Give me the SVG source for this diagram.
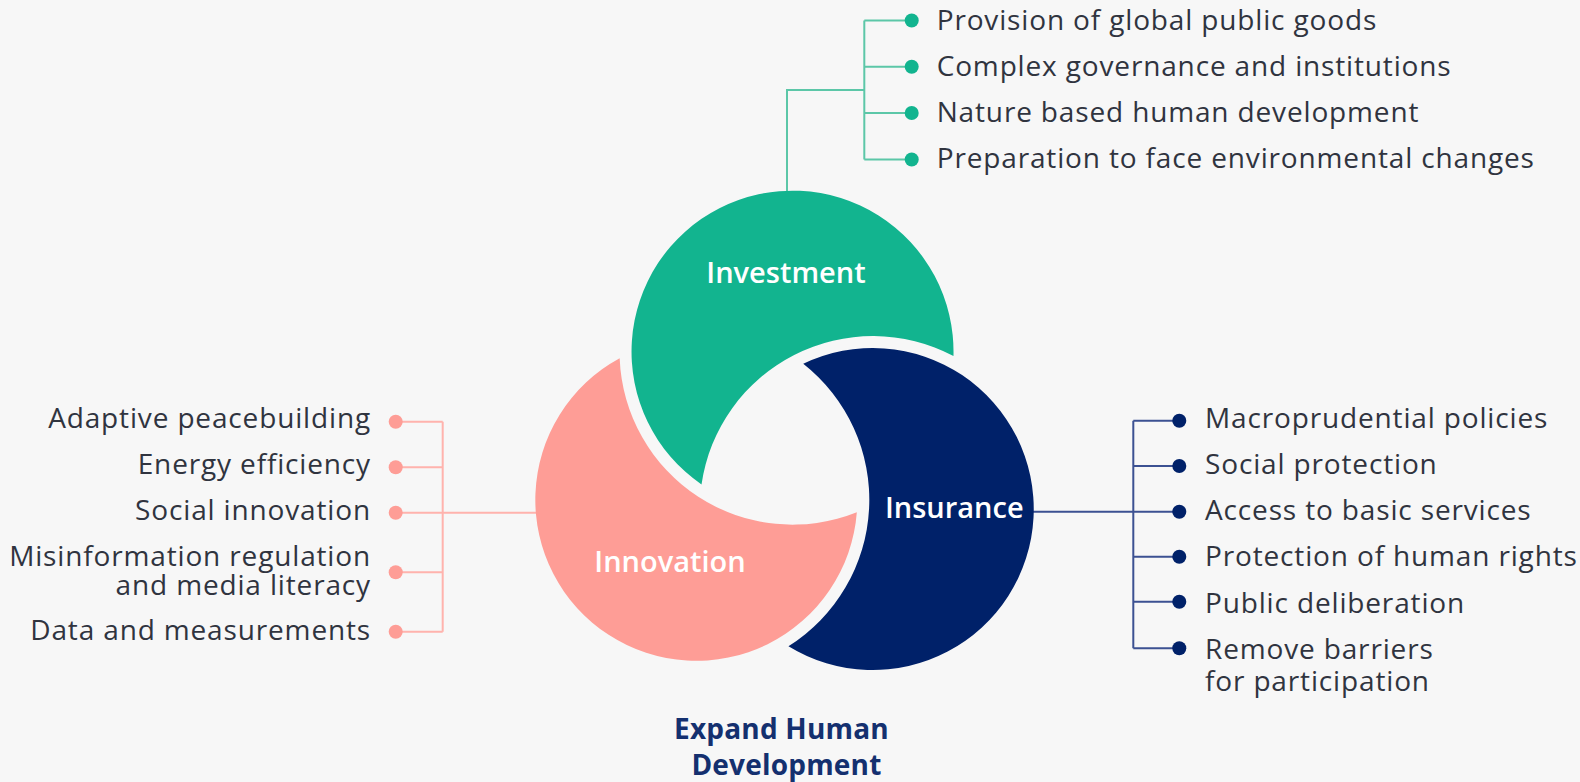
<svg xmlns="http://www.w3.org/2000/svg" width="1580" height="782" viewBox="0 0 1580 782">
<style>
.item{font-family:"Open Sans","Liberation Sans",sans-serif;font-size:28px;letter-spacing:0.85px;fill:#30343f}
.lbl{font-family:"Open Sans","Liberation Sans",sans-serif;font-size:29px;fill:#ffffff;font-weight:600;text-anchor:middle}
.ttl{font-family:"Open Sans","Liberation Sans",sans-serif;font-size:28px;letter-spacing:0.2px;fill:#14306f;font-weight:700;text-anchor:middle}
.gl{stroke:#5cc7a8;stroke-width:2;fill:none}
.pl{stroke:#ffb3ad;stroke-width:2;fill:none}
.nl{stroke:#3c5192;stroke-width:2;fill:none}
</style>
<defs>
<path id="cres" d="M 953.47 356.04 A 161 161 0 1 0 701.51 484.44 A 173 173 0 0 1 953.47 356.04 Z"/>
</defs>
<rect width="1580" height="782" fill="#f7f7f7"/>
<g id="connectors">
<path class="gl" d="M787 191 V90 H864.3 M864.3 20.5 V159.5 M864.3 20.5 H911.7 M864.3 66.7 H911.7 M864.3 113 H911.7 M864.3 159.5 H911.7"/>
<path class="pl" d="M536 512.7 H442.7 M442.7 421.7 V631.7 M395.7 421.7 H442.7 M395.7 467.3 H442.7 M395.7 512.7 H442.7 M395.7 572.3 H442.7 M395.7 631.7 H442.7"/>
<path class="nl" d="M1033 511.7 H1179.3 M1133.3 420.7 V648.3 M1133.3 420.7 H1179.3 M1133.3 466 H1179.3 M1133.3 556.7 H1179.3 M1133.3 601.7 H1179.3 M1133.3 648.3 H1179.3"/>
</g>
<g id="investment">
<use href="#cres" fill="#12b48f"/>
<text class="lbl" x="786" y="282.7">Investment</text>
</g>
<g id="insurance">
<use href="#cres" fill="#002169" transform="rotate(120 787.2 453.5)"/>
<text class="lbl" x="954.3" y="518.3">Insurance</text>
</g>
<g id="innovation">
<use href="#cres" fill="#fe9d96" transform="rotate(240 787.2 453.5)"/>
<text class="lbl" x="670" y="572.3">Innovation</text>
</g>
<g id="investment-items">
<circle cx="911.7" cy="20.5" r="7" fill="#12b48f"/>
<circle cx="911.7" cy="66.7" r="7" fill="#12b48f"/>
<circle cx="911.7" cy="113" r="7" fill="#12b48f"/>
<circle cx="911.7" cy="159.5" r="7" fill="#12b48f"/>
<text class="item" x="936.7" y="30">Provision of global public goods</text>
<text class="item" x="936.7" y="75.5">Complex governance and institutions</text>
<text class="item" x="936.7" y="122">Nature based human development</text>
<text class="item" x="936.7" y="168">Preparation to face environmental changes</text>
</g>
<g id="innovation-items" text-anchor="end">
<circle cx="395.7" cy="421.7" r="7" fill="#fe9d96"/>
<circle cx="395.7" cy="467.3" r="7" fill="#fe9d96"/>
<circle cx="395.7" cy="512.7" r="7" fill="#fe9d96"/>
<circle cx="395.7" cy="572.3" r="7" fill="#fe9d96"/>
<circle cx="395.7" cy="631.7" r="7" fill="#fe9d96"/>
<text class="item" x="371" y="428.3">Adaptive peacebuilding</text>
<text class="item" x="371" y="474.3">Energy efficiency</text>
<text class="item" x="371" y="520">Social innovation</text>
<text class="item" x="371" y="566">Misinformation regulation</text>
<text class="item" x="371" y="595">and media literacy</text>
<text class="item" x="371" y="640">Data and measurements</text>
</g>
<g id="insurance-items">
<circle cx="1179.3" cy="420.7" r="7" fill="#002169"/>
<circle cx="1179.3" cy="466" r="7" fill="#002169"/>
<circle cx="1179.3" cy="511.7" r="7" fill="#002169"/>
<circle cx="1179.3" cy="556.7" r="7" fill="#002169"/>
<circle cx="1179.3" cy="601.7" r="7" fill="#002169"/>
<circle cx="1179.3" cy="648.3" r="7" fill="#002169"/>
<text class="item" x="1205" y="428.3">Macroprudential policies</text>
<text class="item" x="1205" y="474.3">Social protection</text>
<text class="item" x="1205" y="520">Access to basic services</text>
<text class="item" x="1205" y="566">Protection of human rights</text>
<text class="item" x="1205" y="612.7">Public deliberation</text>
<text class="item" x="1205" y="659.3">Remove barriers</text>
<text class="item" x="1205" y="691">for participation</text>
</g>
<g id="title">
<text class="ttl" x="781.5" y="739">Expand Human</text>
<text class="ttl" x="786.5" y="775">Development</text>
</g>
</svg>
